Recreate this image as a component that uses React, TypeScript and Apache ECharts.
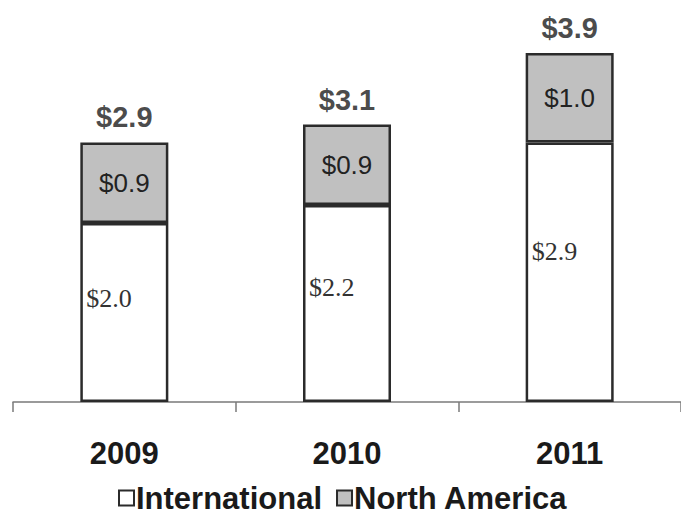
import React, { useEffect, useRef } from "react";
import * as echarts from "echarts";

const categories = ["2009", "2010", "2011"];
const international = [2.0, 2.2, 2.9];
const northAmerica = [0.9, 0.9, 1.0];
const totals = [2.9, 3.1, 3.9];
const fmt = (v: number) => "$" + v.toFixed(1);

export default function App() {
  const ref = useRef<HTMLDivElement>(null);
  useEffect(() => {
    if (!ref.current) return;
    const chart = echarts.init(ref.current, undefined, { renderer: "svg" });
    const sans = "Liberation Sans";
    chart.setOption({
      animation: false,
      backgroundColor: "#ffffff",
      grid: { left: 13, right: -4, top: 44, bottom: 112, containLabel: false },
      legend: {
        data: ["International", "North America"],
        left: 113,
        top: 477,
        icon: "rect",
        itemWidth: 15,
        itemHeight: 15,
        itemGap: 14,
        textStyle: { fontFamily: sans, fontWeight: "bold", fontSize: 31, lineHeight: 32, color: "#1a1a1a", padding: [0, 0, 0, -3] },
      },
      xAxis: {
        type: "category",
        data: categories,
        axisLine: { show: true, lineStyle: { color: "#7a7a7a", width: 1.5 } },
        axisTick: { show: true, length: 10, alignWithLabel: false, lineStyle: { color: "#7a7a7a", width: 1.5 } },
        axisLabel: { margin: 36, fontFamily: sans, fontWeight: "bold", fontSize: 31, color: "#1a1a1a" },
      },
      yAxis: { type: "value", show: false, min: 0, max: 4 },
      series: [
        {
          name: "International",
          type: "bar",
          stack: "total",
          barWidth: 88,
          data: international,
          itemStyle: { color: "#ffffff", borderColor: "#2b2b2b", borderWidth: 2.5 },
          label: {
            show: true,
            position: [6, "42%"],
            align: "left",
            verticalAlign: "middle",
            formatter: (p: any) => fmt(p.value),
            fontFamily: "Liberation Serif",
            fontSize: 26,
            color: "#333333",
          },
        },
        {
          name: "North America",
          type: "bar",
          stack: "total",
          barWidth: 88,
          data: northAmerica,
          itemStyle: { color: "#c0c0c0", borderColor: "#2b2b2b", borderWidth: 2.5 },
          label: {
            show: true,
            position: "inside",
            formatter: (p: any) => fmt(p.value),
            fontFamily: sans,
            fontSize: 26,
            color: "#222222",
          },
        },
        {
          name: "Total",
          type: "scatter",
          data: totals,
          symbolSize: 1,
          itemStyle: { color: "transparent" },
          label: {
            show: true,
            position: "top",
            distance: 10,
            formatter: (p: any) => fmt(p.value),
            fontFamily: sans,
            fontWeight: "bold",
            fontSize: 29,
            color: "#1a1a1a",
          },
          silent: true,
        },
      ],
    });
    return () => chart.dispose();
  }, []);
  return (
    <div
      ref={ref}
      style={{ position: "absolute", left: 0, top: 0, width: 681, height: 514, background: "#fff" }}
    />
  );
}
